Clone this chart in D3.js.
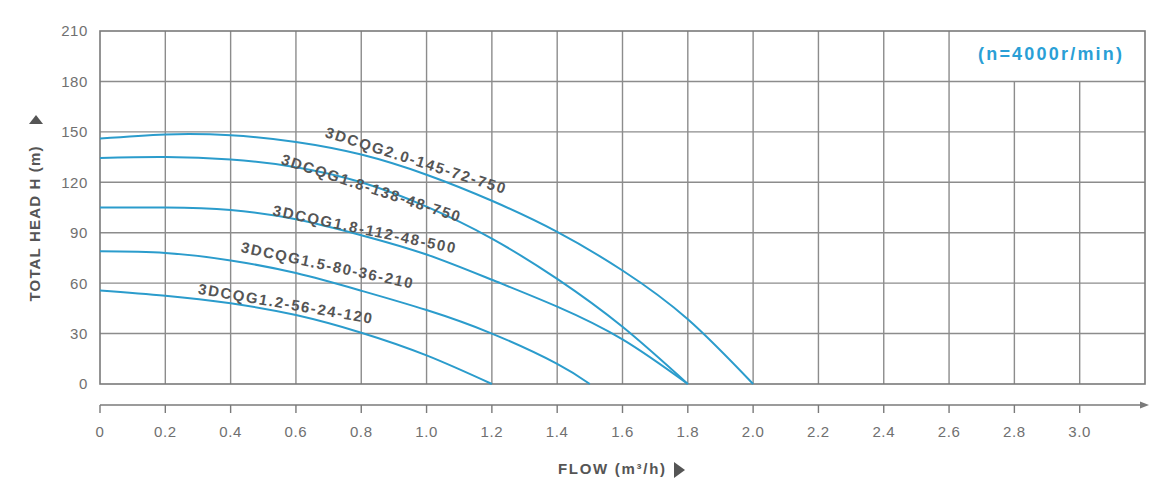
<!DOCTYPE html>
<html><head><meta charset="utf-8">
<script src="https://cdn.jsdelivr.net/npm/d3@7"></script>
<style>body{margin:0;background:#fff}svg{display:block}</style>
</head><body><svg id="c" width="1164" height="483"></svg>
<script>
// ---- data ----
const flowTicks = [0,0.2,0.4,0.6,0.8,1.0,1.2,1.4,1.6,1.8,2.0,2.2,2.4,2.6,2.8,3.0];
const flowTickLabels = ["0","0.2","0.4","0.6","0.8","1.0","1.2","1.4","1.6","1.8","2.0","2.2","2.4","2.6","2.8","3.0"];
const headTicks = [0,30,60,90,120,150,180,210];
const seriesNames = ["3DCQG2.0-145-72-750","3DCQG1.8-138-48-750","3DCQG1.8-112-48-500","3DCQG1.5-80-36-210","3DCQG1.2-56-24-120"];

const flowA = [0,0.2,0.4,0.6,0.8,1.0,1.2,1.4,1.6,1.8,2.0];
const headA = [146,148.5,148,144,136.5,124.5,109,90.5,67.5,38.5,0];
const flowB = [0,0.2,0.4,0.6,0.8,1.0,1.2,1.4,1.6,1.8];
const headB = [134.5,135,133.5,129,120,105.5,86.5,62.5,34,0];
const flowC = [0,0.2,0.4,0.6,0.8,1.0,1.2,1.4,1.6,1.8];
const headC = [105,105,103.5,98,88.5,77,62,46,26.5,0];
const flowD = [0,0.2,0.4,0.6,0.8,1.0,1.2,1.4,1.5];
const headD = [79,78,73.5,66,55.5,44,30,12,0];
const flowE = [0,0.2,0.4,0.6,0.8,1.0,1.2];
const headE = [55.6,52.5,48,41,30.5,17,0];
const speedNote = "(n=4000r/min)";

const seriesFlows = [flowA,flowB,flowC,flowD,flowE];
const seriesHeads = [headA,headB,headC,headD,headE];

// ---- drawing ----
const svg = d3.select("#c");
const x = d3.scaleLinear().domain([0,3.2]).range([100,1145]);
const y = d3.scaleLinear().domain([0,210]).range([384,31]);
const gridColor = "#8c8c8c";
const font = "'Liberation Sans', Arial, sans-serif";

const grid = svg.append("g").attr("stroke", gridColor).attr("stroke-width", 1.4);
headTicks.filter(h => h > 0 && h < 210).forEach(h => {
  grid.append("line").attr("x1", x(0)).attr("x2", x(3.2)).attr("y1", y(h)).attr("y2", y(h));
});
// vertical grid lines (top row has no lines at 2.8 and 3.0)
flowTicks.filter(f => f > 0).forEach(f => {
  const top = f > 2.65 ? 180 : 210;
  grid.append("line").attr("x1", x(f)).attr("x2", x(f)).attr("y1", y(0)).attr("y2", y(top));
});
svg.append("rect").attr("x", x(0)).attr("y", y(210)).attr("width", x(3.2)-x(0)).attr("height", y(0)-y(210))
  .attr("fill","none").attr("stroke","#7a7a7a").attr("stroke-width",1.6);

// y tick labels
svg.append("g").selectAll("text").data(headTicks).join("text")
  .attr("x", 88).attr("y", d => y(d)).attr("dy","0.36em")
  .attr("text-anchor","end").attr("font-family",font).attr("font-size",15).attr("fill","#707070")
  .attr("letter-spacing","0.6px")
  .text(d => d);

// x axis (separate line with arrow)
const axY = 405;
const xa = svg.append("g").attr("stroke","#7a7a7a").attr("stroke-width",1.4);
xa.append("line").attr("x1", x(0)).attr("x2", 1146).attr("y1", axY).attr("y2", axY);
flowTicks.forEach(f => {
  xa.append("line").attr("x1", x(f)).attr("x2", x(f)).attr("y1", axY).attr("y2", axY+8);
});
svg.append("path").attr("d", `M1140,${axY-3.5} L1149,${axY} L1140,${axY+3.5} Z`).attr("fill","#7a7a7a");

svg.append("g").selectAll("text").data(flowTicks).join("text")
  .attr("x", d => x(d)).attr("y", 432).attr("dy","0.36em")
  .attr("text-anchor","middle").attr("font-family",font).attr("font-size",15).attr("fill","#707070")
  .attr("letter-spacing","0.6px")
  .text((d,i) => flowTickLabels[i]);

// axis titles
svg.append("text").attr("x", 558).attr("y", 469).attr("dy","0.36em")
  .attr("font-family",font).attr("font-size",15).attr("font-weight","bold").attr("fill","#555")
  .attr("textLength",107).attr("lengthAdjust","spacing")
  .text("FLOW (m³/h)");
svg.append("path").attr("d","M674,462 L685,470 L674,478 Z").attr("fill","#555");

svg.append("text").attr("transform","translate(35,224) rotate(-90)").attr("dy","0.36em")
  .attr("text-anchor","middle").attr("font-family",font).attr("font-size",15).attr("font-weight","bold").attr("fill","#555")
  .attr("textLength",155).attr("lengthAdjust","spacing")
  .text("TOTAL HEAD H (m)");
svg.append("path").attr("d","M29,124 L36,115 L43,124 Z").attr("fill","#555");

// curves
const line = d3.line().x(d => x(d[0])).y(d => y(d[1])).curve(d3.curveNatural);
seriesFlows.forEach((fl, i) => {
  const pts = fl.map((f, j) => [f, seriesHeads[i][j]]);
  svg.append("path").attr("d", line(pts)).attr("fill","none")
    .attr("stroke","#2b9ccc").attr("stroke-width",2);
});

// curve labels
const labelPlace = [
  {fx:0.966, h:133.2, a:17.7, len:188},
  {fx:0.829, h:116.8, a:18.1, len:187},
  {fx:0.809, h:92.2, a:11.8, len:186},
  {fx:0.695, h:70.8, a:12.0, len:175},
  {fx:0.567, h:48.0, a:9.8, len:176}
];
seriesNames.forEach((nm, i) => {
  const p = labelPlace[i];
  svg.append("text")
    .attr("transform", `translate(${x(p.fx)},${y(p.h)}) rotate(${p.a})`)
    .attr("dy","0.36em").attr("text-anchor","middle")
    .attr("font-family",font).attr("font-size",15).attr("font-weight","bold").attr("fill","#555")
    .attr("textLength",p.len).attr("lengthAdjust","spacing")
    .text(nm);
});

// speed note
svg.append("text").attr("x", 1050).attr("y", 54).attr("dy","0.36em").attr("text-anchor","middle")
  .attr("font-family",font).attr("font-size",18).attr("font-weight","bold").attr("fill","#2a9fd6")
  .attr("textLength",144).attr("lengthAdjust","spacing")
  .text(speedNote);
</script></body></html>
